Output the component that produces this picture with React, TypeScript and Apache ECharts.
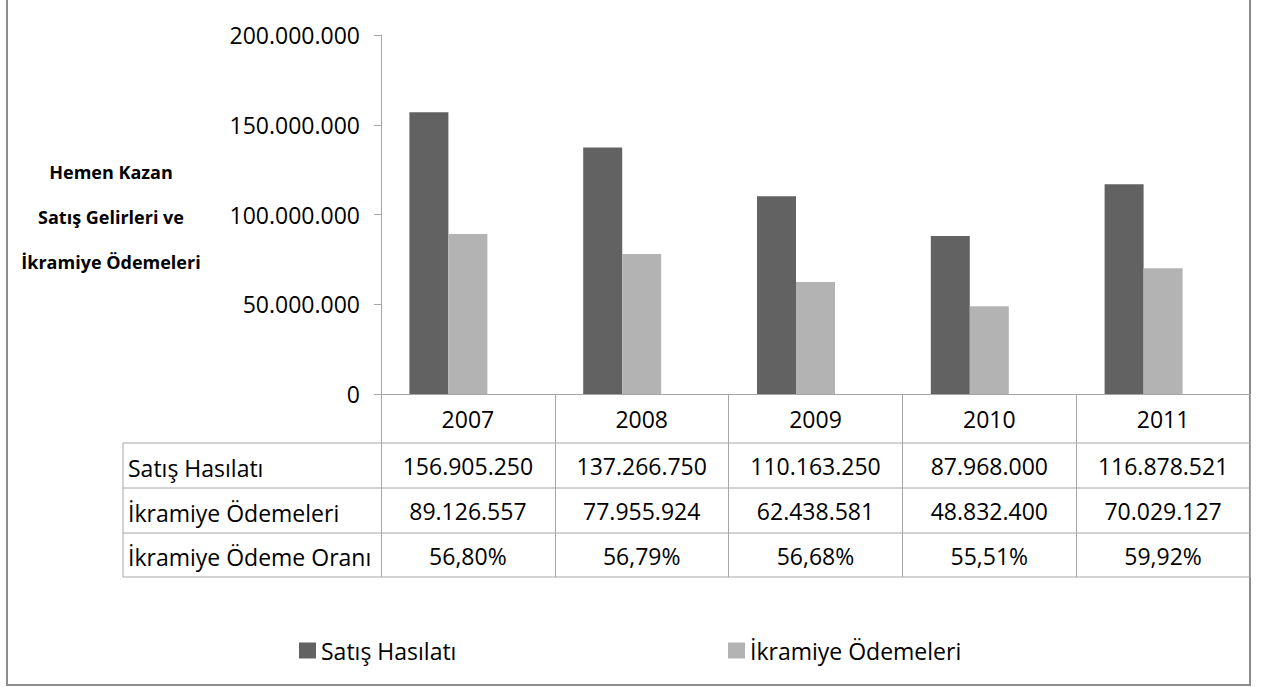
import React, { useEffect, useRef } from 'react';
import * as echarts from 'echarts';

const years = ['2007', '2008', '2009', '2010', '2011'];
const sales = [156905250, 137266750, 110163250, 87968000, 116878521];
const bonus = [89126557, 77955924, 62438581, 48832400, 70029127];
const ratio = [56.8, 56.79, 56.68, 55.51, 59.92];
const rowLabels = ['Satış Hasılatı', 'İkramiye Ödemeleri', 'İkramiye Ödeme Oranı'];
const titleLines = ['Hemen Kazan', 'Satış Gelirleri ve', 'İkramiye Ödemeleri'];
const yMin = 0;
const yMax = 200000000;
const yInterval = 50000000;

const FONT = '"Open Sans", "Noto Sans", sans-serif';
const LINE = '#a6a6a6';

const fmt = (n: number) => String(Math.round(n)).replace(/\B(?=(\d{3})+(?!\d))/g, '.');
const fmtPct = (p: number) => p.toFixed(2).replace('.', ',') + '%';

export default function App() {
  const ref = useRef<HTMLDivElement>(null);
  useEffect(() => {
    if (!ref.current) return;
    const chart = echarts.init(ref.current, undefined, { renderer: 'svg' });
    const rowY = [468, 513, 557];
    const hLines = [443, 488, 533, 577];
    const graphic: any[] = [
      {
        type: 'rect',
        shape: { x: 7, y: -10, width: 1243, height: 695 },
        style: { fill: 'none', stroke: '#8c8c8c', lineWidth: 2 },
        silent: true,
      },
      ...hLines.map((y) => ({
        type: 'line',
        shape: { x1: 123, y1: y, x2: 1250, y2: y },
        style: { stroke: LINE, lineWidth: 1 },
        silent: true,
      })),
      {
        type: 'line',
        shape: { x1: 123, y1: 443, x2: 123, y2: 577 },
        style: { stroke: LINE, lineWidth: 1 },
        silent: true,
      },
      ...rowLabels.map((t, i) => ({
        type: 'text',
        x: 128,
        y: rowY[i],
        style: {
          text: t,
          fill: '#000',
          fontSize: 23,
          fontFamily: FONT,
          align: 'left',
          verticalAlign: 'middle',
        },
        silent: true,
      })),
      ...titleLines.map((t, i) => ({
        type: 'text',
        x: 111,
        y: 172 + i * 45,
        style: {
          text: t,
          fill: '#000',
          fontSize: 18,
          fontWeight: 'bold',
          fontFamily: FONT,
          align: 'center',
          verticalAlign: 'middle',
        },
        silent: true,
      })),
    ];

    const legendBase = {
      icon: 'rect',
      itemWidth: 17,
      itemHeight: 16,
      itemGap: 0,
      top: 634,
      textStyle: { fontSize: 23, color: '#000', fontFamily: FONT },
    };

    chart.setOption({
      animation: false,
      textStyle: { fontFamily: FONT },
      grid: { left: 381, top: 35, width: 869, height: 359, containLabel: false },
      legend: [
        { ...legendBase, left: 294, data: ['Satış Hasılatı'] },
        { ...legendBase, left: 723, data: ['İkramiye Ödemeleri'] },
      ],
      xAxis: {
        type: 'category',
        data: years,
        boundaryGap: true,
        axisLine: { show: true, lineStyle: { color: LINE, width: 1 } },
        axisTick: { show: true, length: 183, alignWithLabel: false, interval: 0, lineStyle: { color: LINE, width: 1 } },
        axisLabel: {
          interval: 0,
          margin: 0,
          color: '#000',
          fontFamily: FONT,
          fontSize: 23,
          formatter: (v: string, i: number) =>
            `{y|${v}}\n{v|${fmt(sales[i])}}\n{v|${fmt(bonus[i])}}\n{v|${fmtPct(ratio[i])}}`,
          rich: {
            y: { lineHeight: 49, fontSize: 23, color: '#000', fontFamily: FONT },
            v: { lineHeight: 45, fontSize: 23, color: '#000', fontFamily: FONT },
          },
        },
        splitLine: { show: false },
      },
      yAxis: {
        type: 'value',
        min: yMin,
        max: yMax,
        interval: yInterval,
        axisLine: { show: true, lineStyle: { color: LINE, width: 1 } },
        axisTick: { show: true, length: 7, lineStyle: { color: LINE, width: 1 } },
        splitLine: { show: false },
        axisLabel: { margin: 21, fontSize: 23, color: '#000', fontFamily: FONT, formatter: (v: number) => fmt(v) },
      },
      series: [
        { name: 'Satış Hasılatı', type: 'bar', data: sales, barWidth: 39, barGap: '0%', itemStyle: { color: '#626262' } },
        { name: 'İkramiye Ödemeleri', type: 'bar', data: bonus, barWidth: 39, barGap: '0%', itemStyle: { color: '#b3b3b3' } },
        { name: 'İkramiye Ödeme Oranı', type: 'bar', data: ratio.map((r) => r / 100), barWidth: 39, barGap: '0%', itemStyle: { color: '#a5a5a5' } },
      ],
      graphic,
    });
    return () => chart.dispose();
  }, []);
  return (
    <div
      ref={ref}
      style={{ position: 'absolute', left: 0, top: 0, width: 1261, height: 687, background: '#fff' }}
    />
  );
}
